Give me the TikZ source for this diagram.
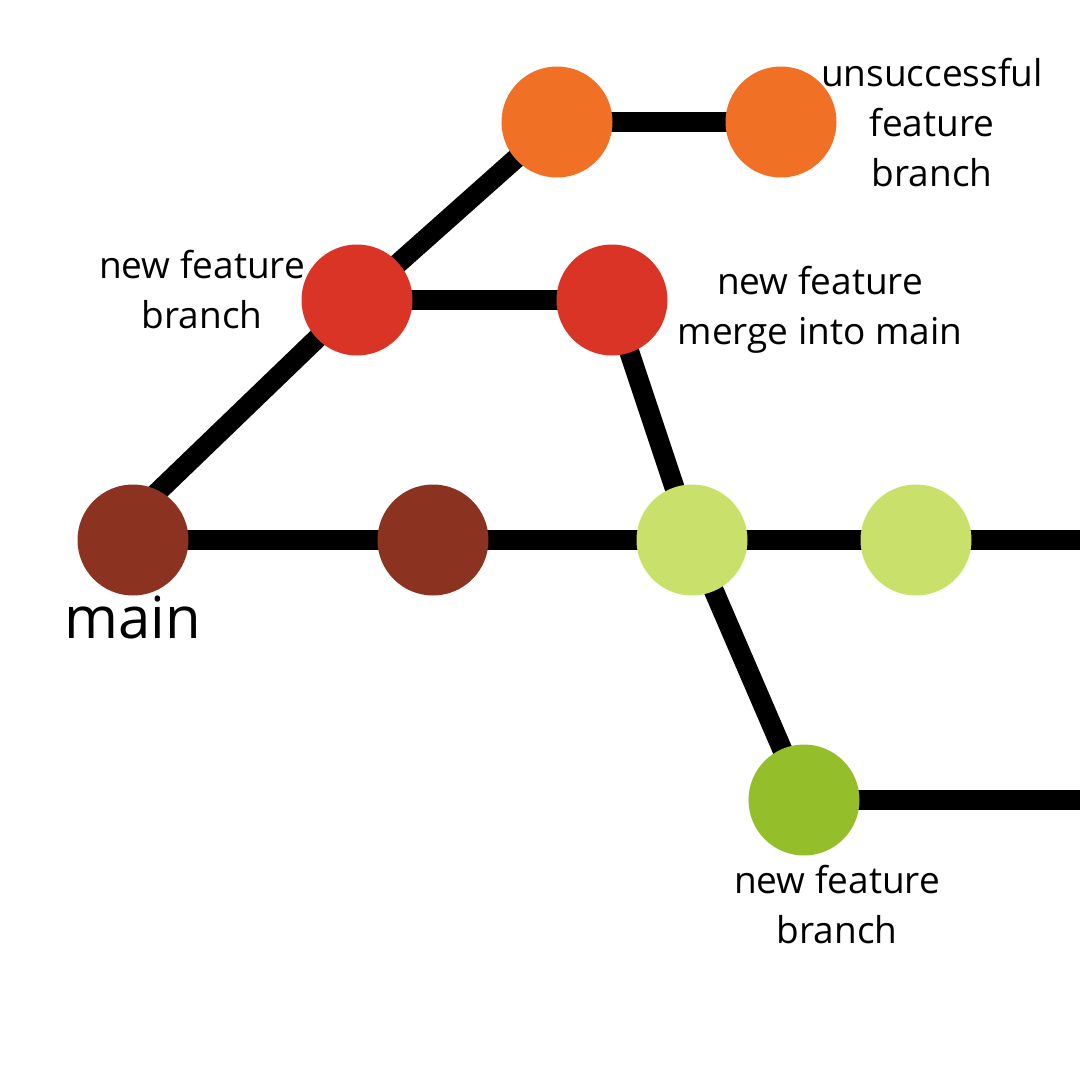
\documentclass[tikz,border=0pt]{standalone}
\usepackage{fontspec}
\setmainfont{Open Sans}
\usetikzlibrary{backgrounds}
\definecolor{brownc}{HTML}{8B3220}
\definecolor{redc}{HTML}{D93425}
\definecolor{orangec}{HTML}{F07026}
\definecolor{lgreen}{HTML}{C9E16B}
\definecolor{dgreen}{HTML}{95BF2A}
\begin{document}
\begin{tikzpicture}[x=1pt,y=-1pt,
  commit/.style={circle,minimum size=111pt,inner sep=0pt},
  edge/.style={line width=20pt},
  lbl/.style={align=center,font=\fontsize{37}{50}\selectfont,inner sep=0pt}]
\useasboundingbox (0,0) rectangle (1080,1080);
\coordinate (e1) at (1080,540);
\coordinate (e2) at (1080,800);
\coordinate (m1t) at (141,508);
\node[commit,fill=brownc] (m1) at (133,540) {};
\node[commit,fill=brownc] (m2) at (433,540) {};
\node[commit,fill=lgreen] (l1) at (692,540) {};
\node[commit,fill=lgreen] (l2) at (916,540) {};
\node[commit,fill=redc] (r1) at (357,300) {};
\node[commit,fill=redc] (r2) at (612,300) {};
\node[commit,fill=orangec] (o1) at (557,122) {};
\node[commit,fill=orangec] (o2) at (781,122) {};
\node[commit,fill=dgreen] (g1) at (804,800) {};
\begin{scope}[on background layer]
\fill[white] (0,0) rectangle (1080,1080);
\draw[edge] (m1.center) -- (m2.center);
\draw[edge] (m2.center) -- (l1.center);
\draw[edge] (l1.center) -- (l2.center);
\draw[edge] (l2.center) -- (e1);
\draw[edge] (m1t) -- (r1.center);
\draw[edge] (r1.center) -- (o1.center);
\draw[edge] (o1.center) -- (o2.center);
\draw[edge] (r1.center) -- (r2.center);
\draw[edge] (r2.center) -- (l1.center);
\draw[edge] (l1.center) -- (g1.center);
\draw[edge] (g1.center) -- (e2);
\end{scope}
\node[lbl] (t1) at (932,123) {unsuccessful\\feature\\branch};
\node[lbl] (t2) at (202,290) {new feature\\branch};
\node[lbl] (t3) at (820,310) {new feature\\merge into main};
\node[lbl,font=\fontsize{58}{60}\selectfont] (t4) at (133,617) {main};
\node[lbl] (t5) at (837,905) {new feature\\branch};
\end{tikzpicture}
\end{document}
